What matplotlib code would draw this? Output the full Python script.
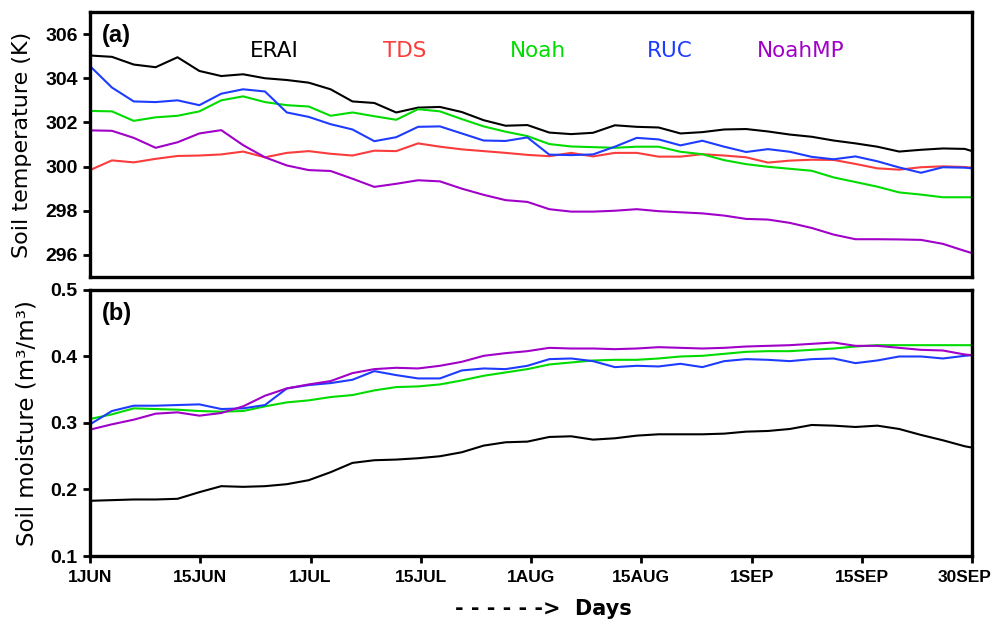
import matplotlib
matplotlib.use("Agg")
import matplotlib.pyplot as plt
from matplotlib.transforms import ScaledTranslation

plt.rcParams['font.family'] = ['DejaVu Sans']

# Day index from 1 June (0) to 30 September (121)
days = [0, 3, 6, 9, 12, 15, 18, 21, 24, 27, 30, 33, 36, 39, 42, 45, 48, 51, 54, 57,
        60, 63, 66, 69, 72, 75, 78, 81, 84, 87, 90, 93, 96, 99, 102, 105, 108, 111,
        114, 117, 120, 121]

tick_labels = ['1JUN', '15JUN', '1JUL', '15JUL', '1AUG', '15AUG', '1SEP', '15SEP', '30SEP']

models = ['ERAI', 'TDS', 'Noah', 'RUC', 'NoahMP']
colors = {'ERAI': '#000000', 'TDS': '#fa3c3c', 'Noah': '#00dc00',
          'RUC': '#1e3cff', 'NoahMP': '#a000c8'}

# Soil temperature (K)
temp_erai = [305.03, 304.97, 304.62, 304.50, 304.95, 304.33, 304.10, 304.18, 304.00, 303.92,
             303.80, 303.50, 302.95, 302.88, 302.45, 302.67, 302.70, 302.47, 302.10, 301.85,
             301.88, 301.54, 301.47, 301.53, 301.87, 301.80, 301.77, 301.50, 301.56, 301.68,
             301.70, 301.59, 301.45, 301.35, 301.18, 301.05, 300.90, 300.68, 300.76, 300.82,
             300.80, 300.70]
temp_tds = [299.84, 300.28, 300.19, 300.35, 300.48, 300.50, 300.55, 300.68, 300.42, 300.62,
            300.70, 300.58, 300.50, 300.72, 300.70, 301.05, 300.90, 300.78, 300.70, 300.62,
            300.53, 300.47, 300.62, 300.46, 300.62, 300.62, 300.45, 300.45, 300.56, 300.50,
            300.42, 300.18, 300.27, 300.31, 300.30, 300.12, 299.92, 299.86, 299.97, 300.01,
            299.98, 299.95]
temp_noah = [302.52, 302.50, 302.07, 302.23, 302.30, 302.50, 303.00, 303.18, 302.92, 302.78,
             302.72, 302.30, 302.45, 302.28, 302.12, 302.60, 302.50, 302.15, 301.82, 301.58,
             301.38, 301.02, 300.91, 300.88, 300.85, 300.90, 300.90, 300.67, 300.56, 300.29,
             300.11, 299.99, 299.90, 299.81, 299.51, 299.30, 299.09, 298.83, 298.73, 298.61,
             298.61, 298.61]
temp_ruc = [304.55, 303.58, 302.95, 302.92, 303.00, 302.78, 303.30, 303.50, 303.40, 302.45,
            302.25, 301.92, 301.68, 301.15, 301.33, 301.80, 301.82, 301.50, 301.18, 301.16,
            301.32, 300.54, 300.52, 300.55, 300.90, 301.30, 301.23, 300.96, 301.17, 300.90,
            300.66, 300.79, 300.67, 300.44, 300.33, 300.46, 300.24, 299.96, 299.72, 299.97,
            299.95, 299.92]
temp_noahmp = [301.64, 301.62, 301.30, 300.85, 301.10, 301.50, 301.65, 300.97, 300.42, 300.05,
               299.84, 299.80, 299.45, 299.08, 299.22, 299.38, 299.33, 299.00, 298.72, 298.48,
               298.40, 298.07, 297.96, 297.96, 298.00, 298.07, 297.98, 297.93, 297.88, 297.78,
               297.63, 297.60, 297.45, 297.22, 296.92, 296.71, 296.71, 296.70, 296.68, 296.50,
               296.18, 296.08]

# Soil moisture (m3/m3)
sm_erai = [0.183, 0.184, 0.185, 0.185, 0.186, 0.196, 0.205, 0.204, 0.205, 0.208,
           0.214, 0.226, 0.240, 0.244, 0.245, 0.247, 0.250, 0.256, 0.266, 0.271,
           0.272, 0.279, 0.280, 0.275, 0.277, 0.281, 0.283, 0.283, 0.283, 0.284,
           0.287, 0.288, 0.291, 0.297, 0.296, 0.294, 0.296, 0.291, 0.282, 0.274,
           0.265, 0.263]
sm_noah = [0.306, 0.313, 0.322, 0.321, 0.320, 0.318, 0.317, 0.318, 0.325, 0.331,
           0.334, 0.339, 0.342, 0.349, 0.354, 0.355, 0.358, 0.364, 0.371, 0.376,
           0.381, 0.388, 0.391, 0.394, 0.395, 0.395, 0.397, 0.400, 0.401, 0.404,
           0.407, 0.408, 0.408, 0.410, 0.412, 0.415, 0.417, 0.417, 0.417, 0.417,
           0.417, 0.417]
sm_ruc = [0.298, 0.318, 0.326, 0.326, 0.327, 0.328, 0.321, 0.322, 0.327, 0.352,
          0.357, 0.360, 0.365, 0.378, 0.372, 0.367, 0.367, 0.379, 0.382, 0.381,
          0.386, 0.396, 0.397, 0.393, 0.384, 0.386, 0.385, 0.389, 0.384, 0.393,
          0.396, 0.395, 0.393, 0.396, 0.397, 0.390, 0.394, 0.400, 0.400, 0.397,
          0.401, 0.402]
sm_noahmp = [0.290, 0.298, 0.305, 0.314, 0.316, 0.311, 0.315, 0.325, 0.341, 0.352,
             0.358, 0.363, 0.375, 0.381, 0.383, 0.382, 0.386, 0.392, 0.401, 0.405,
             0.408, 0.413, 0.412, 0.412, 0.411, 0.412, 0.414, 0.413, 0.412, 0.413,
             0.415, 0.416, 0.417, 0.419, 0.421, 0.416, 0.416, 0.413, 0.410, 0.409,
             0.403, 0.402]

temp_series = {'ERAI': temp_erai, 'TDS': temp_tds, 'Noah': temp_noah,
               'RUC': temp_ruc, 'NoahMP': temp_noahmp}
sm_series = {'ERAI': sm_erai, 'Noah': sm_noah, 'RUC': sm_ruc, 'NoahMP': sm_noahmp}

fig = plt.figure(figsize=(9.97, 6.22), dpi=100)
ax1 = fig.add_axes([0.0903, 0.5547, 0.8847, 0.4260])
ax2 = fig.add_axes([0.0903, 0.1061, 0.8847, 0.4277])

line_kw = dict(lw=1.5, solid_joinstyle='round', solid_capstyle='round')
for name in models:
    ax1.plot(days, temp_series[name], color=colors[name], **line_kw)
for name in ['ERAI', 'Noah', 'RUC', 'NoahMP']:
    ax2.plot(days, sm_series[name], color=colors[name], **line_kw)

xt = [121 * i / 8 for i in range(9)]
for ax in (ax1, ax2):
    ax.set_xlim(0, 121)
    for sp in ax.spines.values():
        sp.set_linewidth(2.4)
    ax.tick_params(axis='y', direction='out', length=5, width=2, pad=4)
    ax.set_xticks(xt)

ax1.set_ylim(295, 307)
ax1.set_yticks([296, 298, 300, 302, 304, 306])
ax1.tick_params(axis='x', length=0, labelbottom=False)

ax2.set_ylim(0.1, 0.5)
ax2.set_yticks([0.1, 0.2, 0.3, 0.4, 0.5])
ax2.set_yticklabels(['0.1', '0.2', '0.3', '0.4', '0.5'])
ax2.set_xticklabels(tick_labels)
ax2.tick_params(axis='x', direction='out', length=5, width=2, pad=5)

for ax in (ax1, ax2):
    for lbl in ax.get_yticklabels():
        lbl.set_fontfamily('Liberation Sans')
        lbl.set_fontweight('bold')
        lbl.set_fontsize(14)
xlbls = ax2.get_xticklabels()
for lbl in xlbls:
    lbl.set_fontfamily('Liberation Sans')
    lbl.set_fontweight('bold')
    lbl.set_fontsize(12.5)
# keep the last date label inside the canvas
xlbls[-1].set_transform(xlbls[-1].get_transform() +
                        ScaledTranslation(-7 / 100, 0, fig.dpi_scale_trans))

ax1.set_ylabel('Soil temperature (K)', fontsize=16)
ax1.yaxis.set_label_coords(-0.066, 0.5)
ax2.set_ylabel('Soil moisture (m³/m³)', fontsize=16.5)
ax2.yaxis.set_label_coords(-0.058, 0.5)

ax1.text(0.013, 0.955, '(a)', transform=ax1.transAxes, fontsize=17,
         fontweight='bold', family='Liberation Sans', ha='left', va='top')
ax2.text(0.013, 0.955, '(b)', transform=ax2.transAxes, fontsize=17,
         fontweight='bold', family='Liberation Sans', ha='left', va='top')

legend_x = [0.2086, 0.357, 0.508, 0.657, 0.8055]
for name, lx in zip(models, legend_x):
    ax1.text(lx, 0.853, name, transform=ax1.transAxes, color=colors[name],
             fontsize=15.5, ha='center', va='center')

fig.text(0.5446, 0.021, '- - - - - ->  Days', fontsize=15, fontweight='bold',
         ha='center', va='center')

fig.savefig('out.png', dpi=100)
